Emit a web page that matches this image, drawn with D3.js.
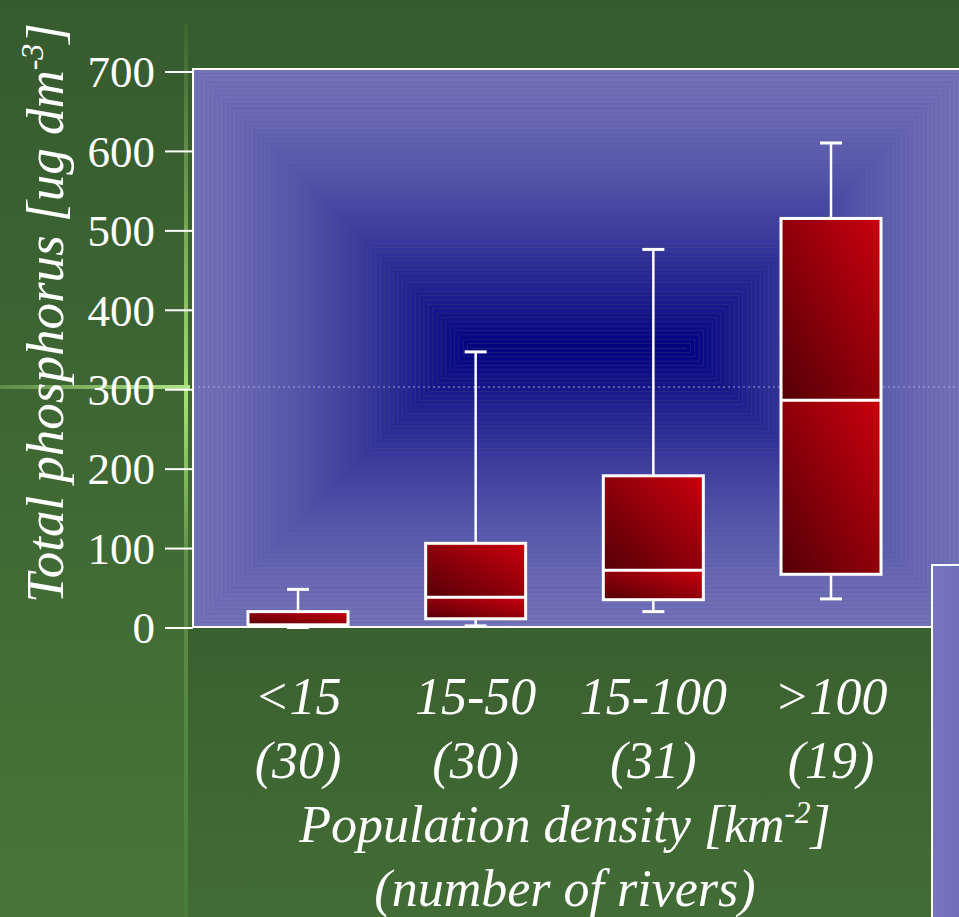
<!DOCTYPE html>
<html>
<head>
<meta charset="utf-8">
<script src="https://cdn.jsdelivr.net/npm/d3@7"></script>
<style>
  body { margin: 0; background: #3a6130; }
  svg { display: block; }
  text { font-family: "Liberation Serif", "DejaVu Serif", "Noto Serif", Tinos, "Times New Roman", Times, FreeSerif, serif; fill: #fff; }
</style>
</head>
<body>
<div id="chart"></div>
<script>
// data
let categories = ["<15", "15-50", "15-100", ">100"];
let riverCounts = ["(30)", "(30)", "(31)", "(19)"];
let minVals = [0, 2, 20, 36];
let q1Vals = [3, 11, 35, 67];
let medianVals = [3, 38, 72, 286];
let q3Vals = [20, 106, 191, 515];
let maxVals = [48, 347, 476, 610];
let yTicks = [0, 100, 200, 300, 400, 500, 600, 700];

let svgWidth = 959;
let svgHeight = 917;

let plot = { left: 193, top: 69, right: 965, bottom: 627 };

let svg = d3.select("#chart")
    .append("svg")
    .attr("width", svgWidth)
    .attr("height", svgHeight);

let defs = svg.append("defs");

// green slide background
let bgGrad = defs.append("linearGradient")
    .attr("id", "bgGrad")
    .attr("x1", 0).attr("y1", 0).attr("x2", 0).attr("y2", 1);
bgGrad.append("stop").attr("offset", "0%").attr("stop-color", "#365b2f");
bgGrad.append("stop").attr("offset", "100%").attr("stop-color", "#477537");

let lowGrad = defs.append("linearGradient")
    .attr("id", "lowGrad")
    .attr("x1", 0).attr("y1", 0).attr("x2", 0).attr("y2", 1);
lowGrad.append("stop").attr("offset", "0%").attr("stop-color", "#3a602f");
lowGrad.append("stop").attr("offset", "100%").attr("stop-color", "#426c35");

let vGlow = defs.append("linearGradient")
    .attr("id", "vGlow")
    .attr("x1", 0).attr("y1", 0).attr("x2", 0).attr("y2", 1);
vGlow.append("stop").attr("offset", "0%").attr("stop-color", "#3c6432");
vGlow.append("stop").attr("offset", "42%").attr("stop-color", "#a6de72");
vGlow.append("stop").attr("offset", "60%").attr("stop-color", "#5e8e48");
vGlow.append("stop").attr("offset", "100%").attr("stop-color", "#4c7c3c");

let hGlow = defs.append("linearGradient")
    .attr("id", "hGlow")
    .attr("x1", 0).attr("y1", 0).attr("x2", 1).attr("y2", 0);
hGlow.append("stop").attr("offset", "0%").attr("stop-color", "#5d8c48");
hGlow.append("stop").attr("offset", "100%").attr("stop-color", "#b2e686");

// red box fill
let redGrad = defs.append("linearGradient")
    .attr("id", "redGrad")
    .attr("x1", 0).attr("y1", 1).attr("x2", 1).attr("y2", 0);
redGrad.append("stop").attr("offset", "0%").attr("stop-color", "#560006");
redGrad.append("stop").attr("offset", "100%").attr("stop-color", "#d0000e");

let hatch = defs.append("pattern")
    .attr("id", "hatch")
    .attr("patternUnits", "userSpaceOnUse")
    .attr("width", 3).attr("height", 3)
    .attr("patternTransform", "rotate(-45)");
hatch.append("line")
    .attr("x1", 0).attr("y1", 0).attr("x2", 0).attr("y2", 3)
    .attr("stroke", "#000")
    .attr("stroke-opacity", 0.18)
    .attr("stroke-width", 1);

let panelGrad = defs.append("linearGradient")
    .attr("id", "panelGrad")
    .attr("x1", 0).attr("y1", 0).attr("x2", 1).attr("y2", 0);
panelGrad.append("stop").attr("offset", "0%").attr("stop-color", "#7676bf");
panelGrad.append("stop").attr("offset", "100%").attr("stop-color", "#6868b2");

svg.append("rect")
    .attr("width", svgWidth).attr("height", svgHeight)
    .attr("fill", "url(#bgGrad)");

svg.append("rect")
    .attr("x", 188).attr("y", plot.bottom)
    .attr("width", svgWidth - 188).attr("height", svgHeight - plot.bottom)
    .attr("fill", "url(#lowGrad)");

svg.append("rect")
    .attr("x", 184).attr("y", 24)
    .attr("width", 4).attr("height", svgHeight - 24)
    .attr("fill", "url(#vGlow)");

svg.append("rect")
    .attr("x", 0).attr("y", 385)
    .attr("width", 190).attr("height", 4)
    .attr("fill", "url(#hGlow)");

// plot area: rectangular gradient, navy in the middle
let plotW = plot.right - plot.left;
let plotH = plot.bottom - plot.top;
let maxInset = plotH / 2;
let nBands = 64;
let bandColor = d3.interpolateRgb("#7272ba", "#000080");

let bands = d3.range(nBands + 1).map(i => i * maxInset / nBands);

svg.append("g")
    .selectAll("rect")
    .data(bands)
    .enter()
    .append("rect")
    .attr("x", d => plot.left + d)
    .attr("y", d => plot.top + d)
    .attr("width", d => plotW - 2 * d)
    .attr("height", d => Math.max(plotH - 2 * d, 1))
    .attr("fill", d => bandColor(Math.pow(d / maxInset, 1.35)))
    .attr("stroke", "#5a5a78")
    .attr("stroke-opacity", 0.35)
    .attr("stroke-width", 0.7);

svg.append("line")
    .attr("x1", plot.left).attr("x2", plot.right)
    .attr("y1", 387).attr("y2", 387)
    .attr("stroke", "#c8c8ee")
    .attr("stroke-opacity", 0.35)
    .attr("stroke-width", 2)
    .attr("stroke-dasharray", "2,3");

svg.append("rect")
    .attr("x", plot.left).attr("y", plot.top)
    .attr("width", plotW).attr("height", plotH)
    .attr("fill", "none")
    .attr("stroke", "#fff")
    .attr("stroke-width", 2);

// scales
let xScale = d3.scalePoint()
    .domain(categories)
    .range([298, 831]);

let yScale = d3.scaleLinear()
    .domain([0, 700])
    .range([627.5, 71.5]);

let leftAxis = d3.axisLeft(yScale)
    .tickValues(yTicks)
    .tickSize(28)
    .tickPadding(10);

let axisG = svg.append("g")
    .attr("transform", `translate(${plot.left}, 0)`)
    .call(leftAxis);
axisG.attr("font-family", null);
axisG.select(".domain").remove();
axisG.selectAll(".tick line").attr("stroke", "#fff").attr("stroke-width", 2);
axisG.selectAll(".tick text")
    .attr("fill", "#fff")
    .attr("font-size", "45px")
    .attr("dy", "0.34em");

// boxes
let boxData = categories.map((c, i) => ({
    cat: c,
    min: minVals[i], q1: q1Vals[i], med: medianVals[i], q3: q3Vals[i], max: maxVals[i]
}));
let boxW = 100;
let capW = 22;

let boxG = svg.append("g")
    .selectAll("g")
    .data(boxData)
    .enter()
    .append("g");

boxG.append("line")
    .attr("x1", d => xScale(d.cat)).attr("x2", d => xScale(d.cat))
    .attr("y1", d => yScale(d.max)).attr("y2", d => yScale(d.q3))
    .attr("stroke", "#fff").attr("stroke-width", 2.5);
boxG.append("line")
    .attr("x1", d => xScale(d.cat)).attr("x2", d => xScale(d.cat))
    .attr("y1", d => yScale(d.q1)).attr("y2", d => yScale(d.min))
    .attr("stroke", "#fff").attr("stroke-width", 2.5);
boxG.append("line")
    .attr("x1", d => xScale(d.cat) - capW / 2).attr("x2", d => xScale(d.cat) + capW / 2)
    .attr("y1", d => yScale(d.max)).attr("y2", d => yScale(d.max))
    .attr("stroke", "#fff").attr("stroke-width", 3);
boxG.append("line")
    .attr("x1", d => xScale(d.cat) - capW / 2).attr("x2", d => xScale(d.cat) + capW / 2)
    .attr("y1", d => yScale(d.min)).attr("y2", d => yScale(d.min))
    .attr("stroke", "#fff").attr("stroke-width", 3);

// upper and lower halves each get their own gradient
[["med", "q3"], ["q1", "med"]].forEach(function (pair) {
    boxG.filter(d => d[pair[1]] > d[pair[0]])
        .append("rect")
        .attr("x", d => xScale(d.cat) - boxW / 2)
        .attr("y", d => yScale(d[pair[1]]))
        .attr("width", boxW)
        .attr("height", d => yScale(d[pair[0]]) - yScale(d[pair[1]]))
        .attr("fill", "url(#redGrad)");
    boxG.filter(d => d[pair[1]] > d[pair[0]])
        .append("rect")
        .attr("x", d => xScale(d.cat) - boxW / 2)
        .attr("y", d => yScale(d[pair[1]]))
        .attr("width", boxW)
        .attr("height", d => yScale(d[pair[0]]) - yScale(d[pair[1]]))
        .attr("fill", "url(#hatch)");
});

boxG.append("rect")
    .attr("x", d => xScale(d.cat) - boxW / 2)
    .attr("y", d => yScale(d.q3))
    .attr("width", boxW)
    .attr("height", d => yScale(d.q1) - yScale(d.q3))
    .attr("fill", "none")
    .attr("stroke", "#fff")
    .attr("stroke-width", 3);

boxG.append("line")
    .attr("x1", d => xScale(d.cat) - boxW / 2).attr("x2", d => xScale(d.cat) + boxW / 2)
    .attr("y1", d => yScale(d.med)).attr("y2", d => yScale(d.med))
    .attr("stroke", "#fff").attr("stroke-width", 3);

// the panel peeking in at the right
svg.append("rect")
    .attr("x", 932).attr("y", 565)
    .attr("width", 60).attr("height", 400)
    .attr("fill", "url(#panelGrad)")
    .attr("stroke", "#fff")
    .attr("stroke-width", 2);

// y title
let yTitle = svg.append("text")
    .attr("transform", "translate(63, 313) rotate(-90)")
    .attr("text-anchor", "middle")
    .attr("font-style", "italic")
    .attr("font-size", "53px");
yTitle.append("tspan").text("Total phosphorus [ug dm");
yTitle.append("tspan").attr("font-size", "32px").attr("dy", -20).text("-3");
yTitle.append("tspan").attr("dy", 20).text("]");

// x labels
svg.append("g")
    .selectAll("text")
    .data(categories)
    .enter()
    .append("text")
    .attr("x", d => xScale(d))
    .attr("y", 714)
    .attr("text-anchor", "middle")
    .attr("font-style", "italic")
    .attr("font-size", "52px")
    .text(d => d);

svg.append("g")
    .selectAll("text")
    .data(riverCounts)
    .enter()
    .append("text")
    .attr("x", (d, i) => xScale(categories[i]))
    .attr("y", 778)
    .attr("text-anchor", "middle")
    .attr("font-style", "italic")
    .attr("font-size", "52px")
    .text(d => d);

let xTitle = svg.append("text")
    .attr("x", 565)
    .attr("y", 842)
    .attr("text-anchor", "middle")
    .attr("font-style", "italic")
    .attr("font-size", "52px");
xTitle.append("tspan").text("Population density [km");
xTitle.append("tspan").attr("font-size", "31px").attr("dy", -19).text("-2");
xTitle.append("tspan").attr("dy", 19).text("]");

svg.append("text")
    .attr("x", 565)
    .attr("y", 906)
    .attr("text-anchor", "middle")
    .attr("font-style", "italic")
    .attr("font-size", "52px")
    .text("(number of rivers)");
</script>
</body>
</html>
